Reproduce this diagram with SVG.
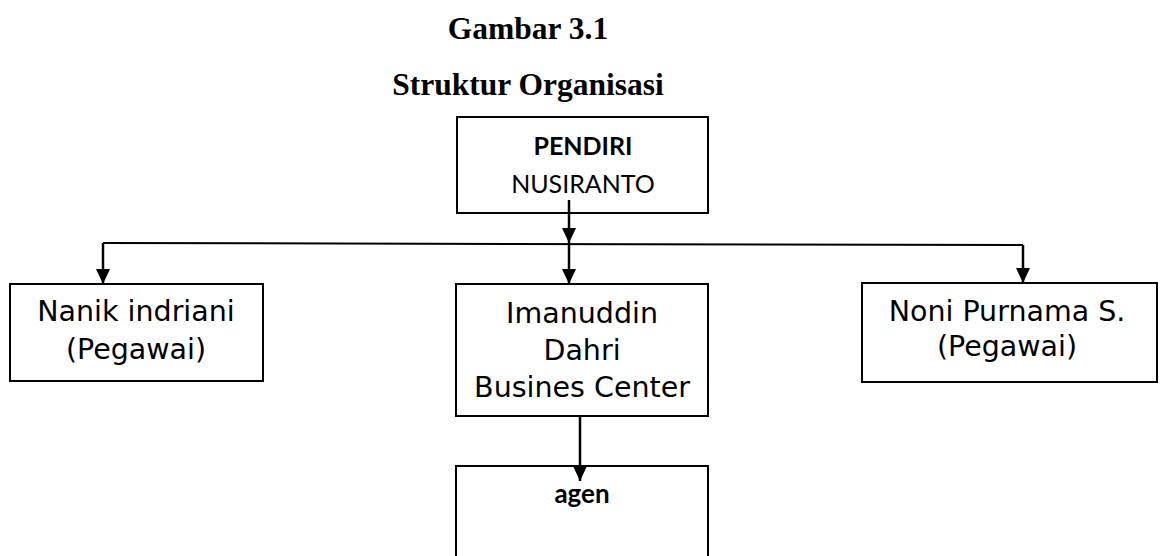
<svg xmlns="http://www.w3.org/2000/svg" width="1163" height="556" viewBox="0 0 1163 556">
<style>
.box{fill:#fff;stroke:#000;stroke-width:2}
.title{font-family:"Liberation Serif","Times New Roman",serif;font-weight:bold;font-size:31.5px;fill:#000;text-anchor:middle}
.cal{font-family:Lato,"Open Sans",sans-serif;font-size:25px;fill:#000;text-anchor:middle}
.calb{font-family:Lato,"Open Sans",sans-serif;font-size:25px;font-weight:bold;fill:#000;text-anchor:middle}
.tah{font-family:"DejaVu Sans",sans-serif;font-size:28.5px;fill:#000;text-anchor:middle}
.ln{fill:none;stroke:#000;stroke-width:2}
.ar{fill:none;stroke:#000;stroke-width:2.5;marker-end:url(#ah)}
</style>
<defs>
<marker id="ah" markerUnits="userSpaceOnUse" markerWidth="16" markerHeight="16" viewBox="0 0 16 16" refX="15" refY="8" orient="auto">
<path d="M0,1 L15,8 L0,15 Z" fill="#000"/>
</marker>
</defs>
<rect width="1163" height="556" fill="#fff"/>
<g id="titles">
<text class="title" x="528" y="39">Gambar 3.1</text>
<text class="title" x="528" y="95">Struktur Organisasi</text>
</g>
<g id="connectors">
<path class="ln" d="M103,243 L1023,245"/>
<path class="ar" d="M569,200 L569,243"/>
<path class="ar" d="M569,243 L569,284"/>
<path class="ar" d="M103,243 L103,284"/>
<path class="ar" d="M1023,245 L1023,283"/>
<path class="ar" d="M580,416 L580,481"/>
</g>
<g id="node-pendiri">
<rect class="box" x="457" y="117" width="251" height="96" fill-opacity="0"/>
<text class="calb" x="583" y="155">PENDIRI</text>
<text class="cal" x="583" y="193">NUSIRANTO</text>
</g>
<g id="node-nanik">
<rect class="box" x="10" y="284" width="253" height="97"/>
<text class="tah" x="136" y="321">Nanik indriani</text>
<text class="tah" x="136" y="359">(Pegawai)</text>
</g>
<g id="node-imanuddin">
<rect class="box" x="456" y="284" width="252" height="132"/>
<text class="tah" x="582" y="323">Imanuddin</text>
<text class="tah" x="582" y="360">Dahri</text>
<text class="tah" x="582" y="397">Busines Center</text>
</g>
<g id="node-noni">
<rect class="box" x="862" y="283" width="295" height="99"/>
<text class="tah" x="1007" y="321">Noni Purnama S.</text>
<text class="tah" x="1007" y="356">(Pegawai)</text>
</g>
<g id="node-agen">
<rect class="box" x="456" y="466" width="252" height="100" fill-opacity="0"/>
<text class="calb" x="582" y="503" style="font-size:26px">agen</text>
</g>
</svg>
